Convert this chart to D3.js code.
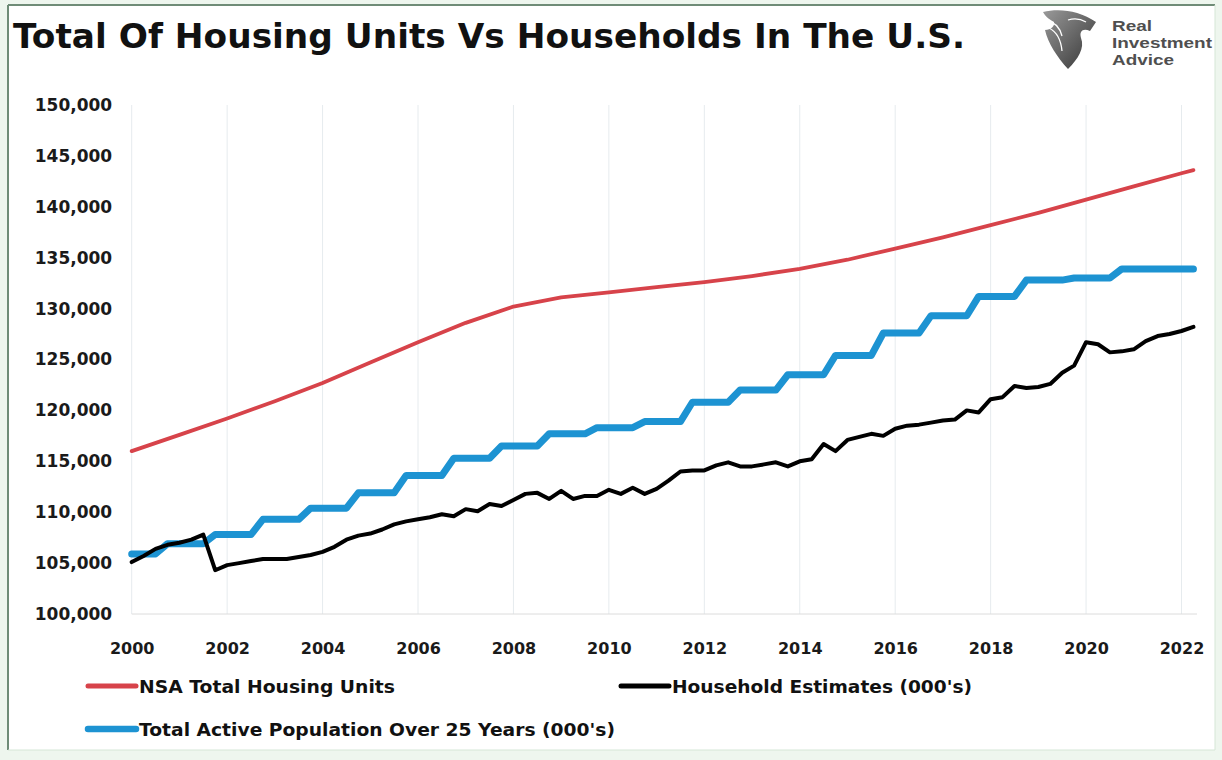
<!DOCTYPE html>
<html><head><meta charset="utf-8">
<script src="https://cdn.jsdelivr.net/npm/d3@7"></script>
<style>body{margin:0;background:#fff;} svg{display:block;}</style>
</head><body><svg id="c" width="1222" height="760"></svg>
<script>
// ---------- DATA ----------
const years = [2000,2001,2002,2003,2004,2005,2006,2007,2008,2009,2010,2011,2012,2013,2014,2015,2016,2017,2018,2019,2020,2021,2022];
const quarterNames = ["Q1","Q2","Q3","Q4"];
const periods = years.flatMap(y => quarterNames.map(q => y + q)).slice(0, 90); // 2000Q1 .. 2022Q2

// Household Estimates (000's), quarterly
const households = [
 105100,105700,106400,106800, 107000,107300,107800,104300, 104800,105000,105200,105400,
 105400,105400,105600,105800, 106100,106600,107300,107700, 107900,108300,108800,109100,
 109300,109500,109800,109600, 110300,110100,110800,110600, 111200,111800,111900,111300,
 112100,111300,111600,111600, 112200,111800,112400,111800, 112300,113100,114000,114100,
 114100,114600,114900,114500, 114500,114700,114900,114500, 115000,115200,116700,116000,
 117100,117400,117700,117500, 118200,118500,118600,118800, 119000,119100,120000,119800,
 121100,121300,122400,122200, 122300,122600,123700,124400, 126700,126500,125700,125800,
 126000,126800,127300,127500, 127800,128200
];

// Total Active Population Over 25 Years (000's), quarterly
const activePop = [
 105900,105900,105900,106900, 106900,106900,106900,107800, 107800,107800,107800,109300,
 109300,109300,109300,110400, 110400,110400,110400,111900, 111900,111900,111900,113600,
 113600,113600,113600,115300, 115300,115300,115300,116500, 116500,116500,116500,117700,
 117700,117700,117700,118300, 118300,118300,118300,118900, 118900,118900,118900,120800,
 120800,120800,120800,122000, 122000,122000,122000,123500, 123500,123500,123500,125400,
 125400,125400,125400,127600, 127600,127600,127600,129300, 129300,129300,129300,131200,
 131200,131200,131200,132800, 132800,132800,132800,133000, 133000,133000,133000,133900,
 133900,133900,133900,133900, 133900,133900
];

// NSA Total Housing Units
const housingPeriods = ["2000Q1","2001Q1","2002Q1","2003Q1","2004Q1","2005Q1","2006Q1","2007Q1","2008Q1","2009Q1","2010Q1","2011Q1","2012Q1","2013Q1","2014Q1","2015Q1","2016Q1","2017Q1","2018Q1","2019Q1","2020Q1","2021Q1","2022Q1","2022Q2"];
const housingUnits = [116000,117600,119200,120900,122700,124700,126700,128600,130200,131100,131600,132100,132600,133200,133900,134800,135900,137000,138200,139400,140700,142000,143300,143600];

const yTicks = [100000,105000,110000,115000,120000,125000,130000,135000,140000,145000,150000];
const xTicks = [2000,2002,2004,2006,2008,2010,2012,2014,2016,2018,2020,2022];

const seriesNames = ["NSA Total Housing Units","Household Estimates (000's)","Total Active Population Over 25 Years (000's)"];
const seriesColors = ["#d7434a","#000000","#1d93d2"];
const titleText = "Total Of Housing Units Vs Households In The U.S.";
const logoLines = ["Real","Investment","Advice"];

// ---------- HELPERS ----------
const toTime = p => +p.slice(0,4) + (+p.slice(5) - 1) / 4;

const svg = d3.select("#c");
const W = 1222, H = 760;

// frame / background
svg.append("rect").attr("x",0).attr("y",0).attr("width",W).attr("height",H).attr("fill","#eef6ee");
svg.append("rect").attr("x",8).attr("y",5).attr("width",1207).attr("height",745).attr("fill","#ffffff");
svg.append("line").attr("x1",8).attr("x2",1215).attr("y1",5).attr("y2",5).attr("stroke","#6f8c77").attr("stroke-width",2);
svg.append("line").attr("x1",8).attr("x2",8).attr("y1",5).attr("y2",750).attr("stroke","#6f8c77").attr("stroke-width",2);
svg.append("line").attr("x1",1215).attr("x2",1215).attr("y1",5).attr("y2",750).attr("stroke","#d5e6d6").attr("stroke-width",1);
svg.append("line").attr("x1",8).attr("x2",1215).attr("y1",750).attr("y2",750).attr("stroke","#d5e6d6").attr("stroke-width",1);

// title
svg.append("text").attr("x",13).attr("y",48)
  .attr("font-family","DejaVu Sans").attr("font-weight","bold").attr("font-size",34)
  .attr("textLength",952).attr("lengthAdjust","spacingAndGlyphs")
  .attr("fill","#111").text(titleText);

// logo
const logo = svg.append("g");
const grad = svg.append("defs").append("linearGradient").attr("id","lg").attr("x1","0").attr("y1","0").attr("x2","1").attr("y2","1");
grad.append("stop").attr("offset","0").attr("stop-color","#9a9a9a");
grad.append("stop").attr("offset","1").attr("stop-color","#333333");
logo.append("path").attr("fill","url(#lg)")
  .attr("d","M1043,12 C1058,8 1079,10 1096,22 L1090,31 C1083,28 1079,31 1081,38 C1085,48 1078,59 1068,69 C1057,57 1048,43 1045,30 C1051,30 1055,26 1054,22 C1051,20 1046,18 1043,12 Z");
logo.append("path").attr("fill","none").attr("stroke","#fff").attr("stroke-width",1.3)
  .attr("d","M1046,20 C1055,22 1060,28 1062,36 M1049,28 C1057,32 1061,40 1062,51 M1068,20 C1074,18 1081,19 1086,22");
const logoWidths = [40, 100, 62];
logoLines.forEach((t,i) => {
  logo.append("text").attr("x",1112).attr("y",31 + i*17.2)
    .attr("font-family","Liberation Sans").attr("font-weight","bold").attr("font-size",15)
    .attr("textLength",logoWidths[i]).attr("lengthAdjust","spacingAndGlyphs")
    .attr("fill","#4f4f4f").text(t);
});

// scales
const x = d3.scaleLinear().domain([2000,2022]).range([131.7,1181.5]);
const y = d3.scaleLinear().domain([100000,150000]).range([614,105]);

// vertical gridlines
svg.append("g").selectAll("line").data(xTicks).join("line")
  .attr("x1",d=>x(d)).attr("x2",d=>x(d)).attr("y1",105).attr("y2",614)
  .attr("stroke","#e6ebee").attr("stroke-width",1);
// bottom axis line
svg.append("line").attr("x1",x(2000)).attr("x2",1197).attr("y1",614).attr("y2",614)
  .attr("stroke","#dcdcdc").attr("stroke-width",1);

// y axis
const yAxis = svg.append("g").attr("transform",`translate(${x(2000)},0)`)
  .call(d3.axisLeft(y).tickValues(yTicks).tickFormat(d3.format(",")).tickSize(0).tickPadding(19.5));
yAxis.select(".domain").remove();
yAxis.selectAll("text").attr("font-family","DejaVu Sans").attr("font-weight","bold").attr("font-size",17).attr("fill","#1a1a1a");

// x axis
const xAxis = svg.append("g").attr("transform","translate(0,614)")
  .call(d3.axisBottom(x).tickValues(xTicks).tickFormat(d3.format("d")).tickSize(0).tickPadding(29));
xAxis.select(".domain").remove();
xAxis.selectAll("text").attr("font-family","DejaVu Sans").attr("font-weight","bold").attr("font-size",16).attr("fill","#1a1a1a");

// series
const line = d3.line().x(d=>x(d.t)).y(d=>y(d.v));
const redData = housingPeriods.map((p,i)=>({t:toTime(p), v:housingUnits[i]}));
const blueData = periods.map((p,i)=>({t:toTime(p), v:activePop[i]}));
const blackData = periods.map((p,i)=>({t:toTime(p), v:households[i]}));

svg.append("path").datum(redData).attr("d",line).attr("fill","none")
  .attr("stroke",seriesColors[0]).attr("stroke-width",3.8).attr("stroke-linejoin","round").attr("stroke-linecap","round");
svg.append("path").datum(blueData).attr("d",line).attr("fill","none")
  .attr("stroke",seriesColors[2]).attr("stroke-width",7).attr("stroke-linejoin","round").attr("stroke-linecap","round");
svg.append("path").datum(blackData).attr("d",line).attr("fill","none")
  .attr("stroke",seriesColors[1]).attr("stroke-width",4).attr("stroke-linejoin","round").attr("stroke-linecap","round");

// legend
const legendItems = [
  {name:seriesNames[0], color:seriesColors[0], w:5, x:88, y:686, tl:256},
  {name:seriesNames[1], color:seriesColors[1], w:5, x:621, y:686, tl:300},
  {name:seriesNames[2], color:seriesColors[2], w:6.5, x:88, y:729, tl:476}
];
const lg = svg.append("g").selectAll("g").data(legendItems).join("g")
  .attr("transform",d=>`translate(${d.x},${d.y})`);
lg.append("line").attr("x1",0).attr("x2",48).attr("y1",0).attr("y2",0)
  .attr("stroke",d=>d.color).attr("stroke-width",d=>d.w).attr("stroke-linecap","round");
lg.append("text").attr("x",51).attr("y",7)
  .attr("font-family","DejaVu Sans").attr("font-weight","bold").attr("font-size",18.5)
  .attr("textLength",d=>d.tl).attr("lengthAdjust","spacingAndGlyphs")
  .attr("fill","#111").text(d=>d.name);
</script>
</body></html>
